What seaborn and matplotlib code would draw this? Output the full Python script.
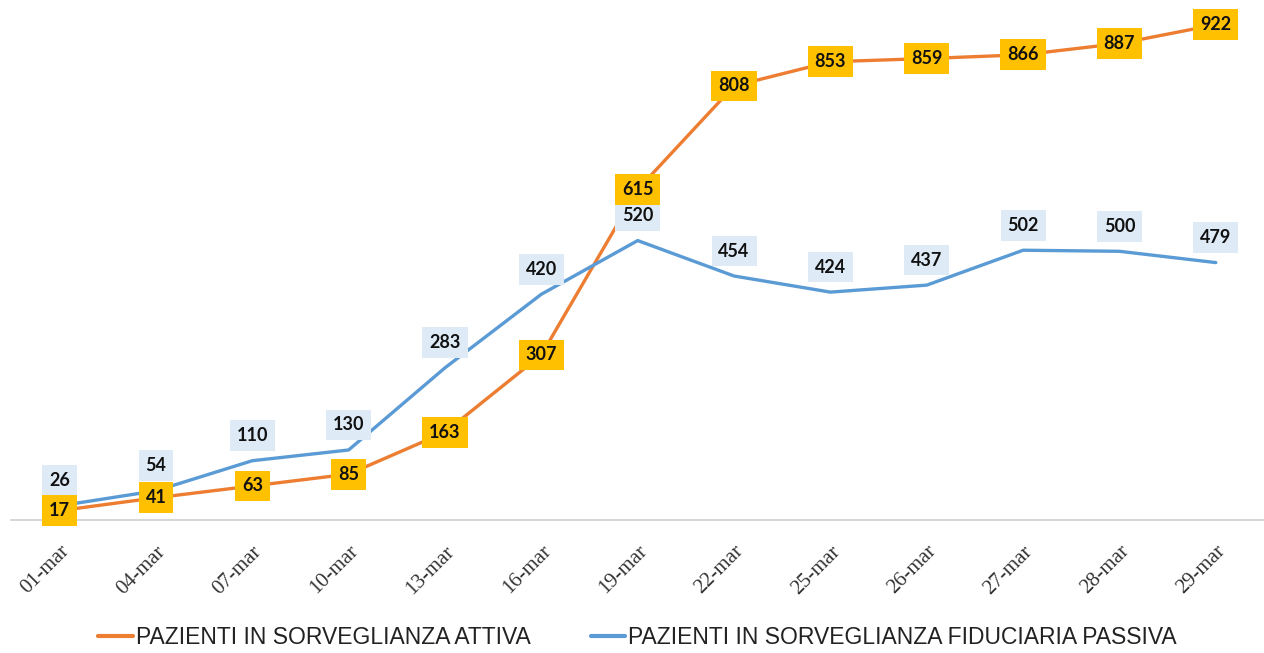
import pandas as pd
import matplotlib.pyplot as plt
import seaborn as sns

# Data
dates = ["01-mar", "04-mar", "07-mar", "10-mar", "13-mar", "16-mar", "19-mar",
         "22-mar", "25-mar", "26-mar", "27-mar", "28-mar", "29-mar"]
attiva = [17, 41, 63, 85, 163, 307, 615, 808, 853, 859, 866, 887, 922]
passiva = [26, 54, 110, 130, 283, 420, 520, 454, 424, 437, 502, 500, 479]

lab_attiva = "PAZIENTI IN SORVEGLIANZA ATTIVA"
lab_passiva = "PAZIENTI IN SORVEGLIANZA FIDUCIARIA PASSIVA"

df = pd.DataFrame({
    "data": dates * 2,
    "pazienti": attiva + passiva,
    "serie": [lab_attiva] * len(dates) + [lab_passiva] * len(dates),
})

sns.set_style("white")
plt.rcParams["font.family"] = ["Liberation Sans", "DejaVu Sans"]

fig = plt.figure(figsize=(12.64, 6.53), dpi=100)
ax = fig.add_axes([0.009, 0.204, 0.991, 0.796])

palette = {lab_attiva: "#ED7D31", lab_passiva: "#5B9BD5"}
sns.lineplot(data=df, x="data", y="pazienti", hue="serie", palette=palette,
             sort=False, linewidth=2.4, ax=ax)

# Data labels
for i, v in enumerate(passiva):
    ax.annotate(str(v), (i, v), xytext=(0, 18), textcoords="offset points",
                ha="center", va="center", fontsize=13, fontweight="bold",
                family=["Lato", "DejaVu Sans"], color="#111111",
                bbox=dict(boxstyle="square,pad=0.38", fc="#DEEBF7", ec="none"))
for i, v in enumerate(attiva):
    ax.annotate(str(v), (i, v), xytext=(0, 0), textcoords="offset points",
                ha="center", va="center", fontsize=13, fontweight="bold",
                family=["Lato", "DejaVu Sans"], color="#111111",
                bbox=dict(boxstyle="square,pad=0.38", fc="#FFC000", ec="none"))

ax.set_xlim(-0.5, len(dates) - 0.5)
ax.set_ylim(0, 968)
ax.set_xlabel("")
ax.set_ylabel("")
ax.set_yticks([])
for s in ["top", "right", "left"]:
    ax.spines[s].set_visible(False)
ax.spines["bottom"].set_color("#d0d0d0")
ax.spines["bottom"].set_linewidth(1.2)

# Category boundary ticks like the original
ax.set_xticks(range(len(dates)))
ax.set_xticklabels(dates, rotation=45, ha="right", rotation_mode="anchor",
                   fontsize=15, family=["Liberation Serif", "DejaVu Serif"],
                   color="#333333")
ax.tick_params(axis="x", length=0, pad=16)
ax.set_xticks([i - 0.5 for i in range(len(dates) + 1)], minor=True)
ax.tick_params(axis="x", which="minor", length=6, color="#d0d0d0", width=1.2,
               direction="out")

leg = ax.legend(loc="upper center", bbox_to_anchor=(0.5, -0.165), ncol=2,
                frameon=False, fontsize=16.5, handlelength=1.5, handletextpad=0.15,
                columnspacing=2.6)
for line in leg.get_lines():
    line.set_linewidth(3)
for t in leg.get_texts():
    t.set_color("#222222")

plt.savefig("out.png", dpi=100)
